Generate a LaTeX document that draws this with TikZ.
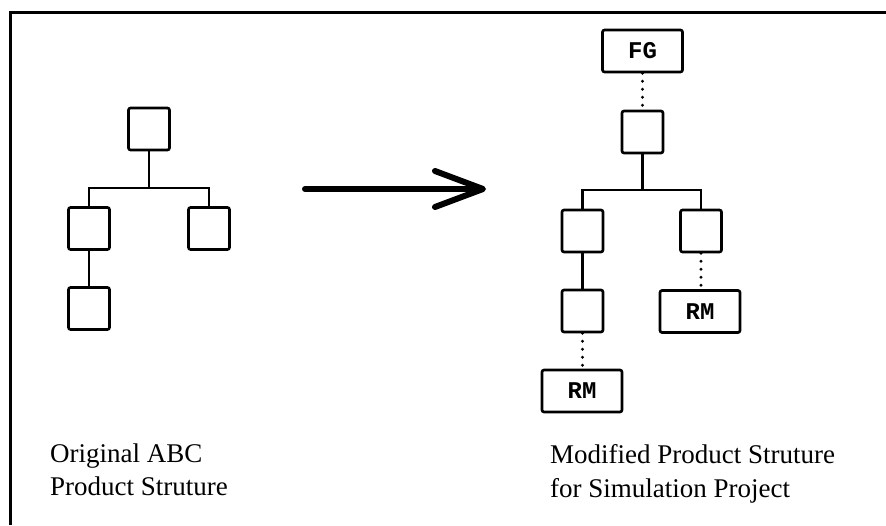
\documentclass[tikz,border=0pt]{standalone}
\usepackage{fontspec}
\setmainfont{Liberation Serif}
\setmonofont{Liberation Mono}
\usetikzlibrary{arrows.meta}
\begin{document}
\begin{tikzpicture}[x=1pt,y=-1pt,
  pbox/.style={draw, line width=2.6pt, rounded corners=2pt, minimum width=41pt, minimum height=42pt, inner sep=0pt},
  rmbox/.style={pbox, minimum width=80pt, font=\ttfamily\bfseries\fontsize{24}{24}\selectfont},
  conn/.style={line width=2.4pt},
  dotline/.style={line width=3.2pt, line cap=round, dash pattern=on 0pt off 8pt},
  bigarrow/.style={line width=6pt, line cap=round, -{Straight Barb[length=48pt, width=36pt, round]}},
  caption/.style={anchor=base west, inner sep=0pt, font=\fontsize{27}{33}\selectfont},
  frame/.style={line width=3pt}]
\useasboundingbox (0,0) rectangle (886,525);
% frame (top and left edges)
\coordinate (f1) at (10,525);
\coordinate (f2) at (10,12);
\coordinate (f3) at (886,12);
\draw[frame] (f1) -- (f2) -- (f3);

% left tree
\node[pbox] (la) at (149,129) {};
\node[pbox] (lb) at (89,228.5) {};
\node[pbox] (lc) at (209,228.5) {};
\node[pbox] (ld) at (89,308.5) {};
\coordinate (lbar) at (149,188);
\draw[conn] (la.south) -- (la.south |- lbar);
\draw[conn] (lb.north) -- (lb.north |- lbar) -- (lc.north |- lbar) -- (lc.north);
\draw[conn] (lb.south) -- (ld.north);

% arrow
\coordinate (as) at (305,189);
\coordinate (ae) at (486,189);
\draw[bigarrow] (as) -- (ae);

% right tree
\node[rmbox] (fg) at (642.5,51) {FG};
\node[pbox] (ra) at (642.5,132) {};
\node[pbox] (rb) at (582.5,231) {};
\node[pbox] (rc) at (701,231) {};
\node[pbox] (rd) at (582.5,311) {};
\node[rmbox] (rm1) at (700,311.5) {RM};
\node[rmbox] (rm2) at (582,391) {RM};
\coordinate (rbar) at (642.5,190);
\draw[dotline] (fg.south) -- (ra.north);
\draw[conn] (ra.south) -- (ra.south |- rbar);
\draw[conn] (rb.north) -- (rb.north |- rbar) -- (rc.north |- rbar) -- (rc.north);
\draw[conn] (rb.south) -- (rd.north);
\draw[dotline] (rc.south) -- (rc.south |- rm1.north);
\draw[dotline] (rd.south) -- (rd.south |- rm2.north);

% captions
\node[caption] (t1) at (50,462) {Original ABC};
\node[caption] (t2) at (50,495) {Product Struture};
\node[caption] (t3) at (550,463) {Modified Product Struture};
\node[caption] (t4) at (550,497) {for Simulation Project};
\end{tikzpicture}
\end{document}
